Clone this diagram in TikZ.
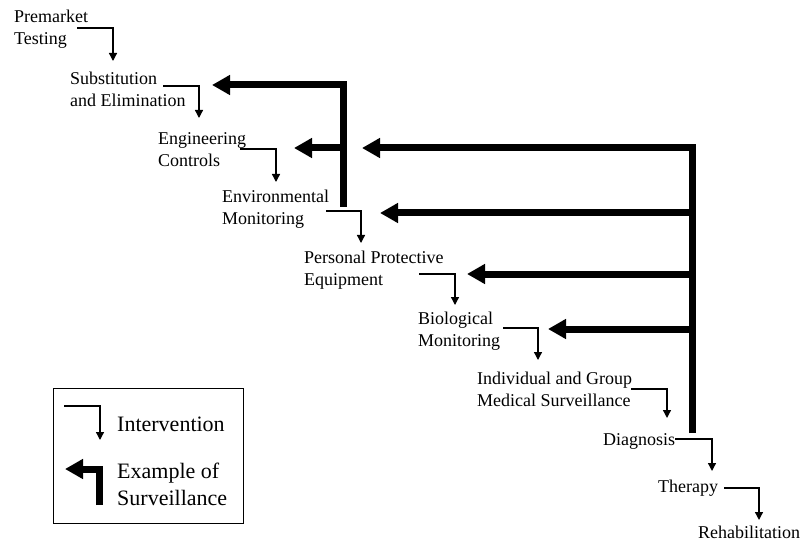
\documentclass[tikz,border=0pt]{standalone}
\usepackage{fontspec}
\setmainfont{Liberation Serif}
\usetikzlibrary{arrows.meta}
\begin{document}
\begin{tikzpicture}[x=1pt,y=-1pt,
  lbl/.style={anchor=north west,inner sep=0pt,align=left,font=\fontsize{18}{22}\selectfont},
  leg/.style={anchor=north west,inner sep=0pt,align=left,font=\fontsize{22}{27}\selectfont},
  iv/.style={line width=1.3pt,-{Triangle[length=8pt,width=8pt]}},
  sv/.style={line width=7pt,-{Triangle[length=18pt,width=19pt]},line join=miter}]
\useasboundingbox (0,0) rectangle (805,545);

% labels
\node[lbl] (pm) at (14,10) {Premarket\\Testing};
\node[lbl] (se) at (70,72) {Substitution\\and Elimination};
\node[lbl] (ec) at (158,132) {Engineering\\Controls};
\node[lbl] (em) at (222,190) {Environmental\\Monitoring};
\node[lbl] (pp) at (304,251) {Personal Protective\\Equipment};
\node[lbl] (bm) at (418,312) {Biological\\Monitoring};
\node[lbl] (ig) at (477,372) {Individual and Group\\Medical Surveillance};
\node[lbl] (dg) at (603,433) {Diagnosis};
\node[lbl] (th) at (658,480) {Therapy};
\node[lbl] (rh) at (698,526) {Rehabilitation};

% intervention arrows
\coordinate (i1s) at (77,28);   \coordinate (i1e) at (113,61);
\coordinate (i2s) at (163,86);  \coordinate (i2e) at (199,118);
\coordinate (i3s) at (240,149); \coordinate (i3e) at (276,182);
\coordinate (i4s) at (326,211); \coordinate (i4e) at (361,243);
\coordinate (i5s) at (419,274); \coordinate (i5e) at (455,305);
\coordinate (i6s) at (503,328); \coordinate (i6e) at (538,360);
\coordinate (i7s) at (631,389); \coordinate (i7e) at (667,418);
\coordinate (i8s) at (675,439); \coordinate (i8e) at (712,471);
\coordinate (i9s) at (724,488); \coordinate (i9e) at (759,520);
\foreach \k in {1,...,9} {\draw[iv] (i\k s) -| (i\k e);}

% surveillance arrows (main)
\coordinate (m0) at (692,433);
\coordinate (m1) at (692,148);
\coordinate (t1) at (362,148);
\coordinate (b2) at (692,213); \coordinate (t2) at (380,213);
\coordinate (b3) at (692,274); \coordinate (t3) at (467,274);
\coordinate (b4) at (692,329); \coordinate (t4) at (548,329);
\draw[sv] (m0) -- (m1) -- (t1);
\draw[sv] (b2) -- (t2);
\draw[sv] (b3) -- (t3);
\draw[sv] (b4) -- (t4);

% surveillance arrows (second)
\coordinate (n0) at (343,207);
\coordinate (n1) at (343,85);
\coordinate (u1) at (212,85);
\coordinate (c2) at (343,148); \coordinate (u2) at (294,148);
\draw[sv] (n0) -- (n1) -- (u1);
\draw[sv] (c2) -- (u2);

% legend
\node[draw,line width=1.4pt,minimum width=190pt,minimum height=135pt,anchor=north west,inner sep=0pt] (legend) at (53,388) {};
\coordinate (l1s) at (64,406); \coordinate (l1e) at (100,440);
\draw[iv] (l1s) -| (l1e);
\node[leg] (lt1) at (117,417) {Intervention};
\coordinate (l2a) at (99,505); \coordinate (l2b) at (99,469); \coordinate (l2c) at (65,469);
\draw[sv] (l2a) -- (l2b) -- (l2c);
\node[leg] (lt2) at (117,463) {Example of\\Surveillance};
\end{tikzpicture}
\end{document}
